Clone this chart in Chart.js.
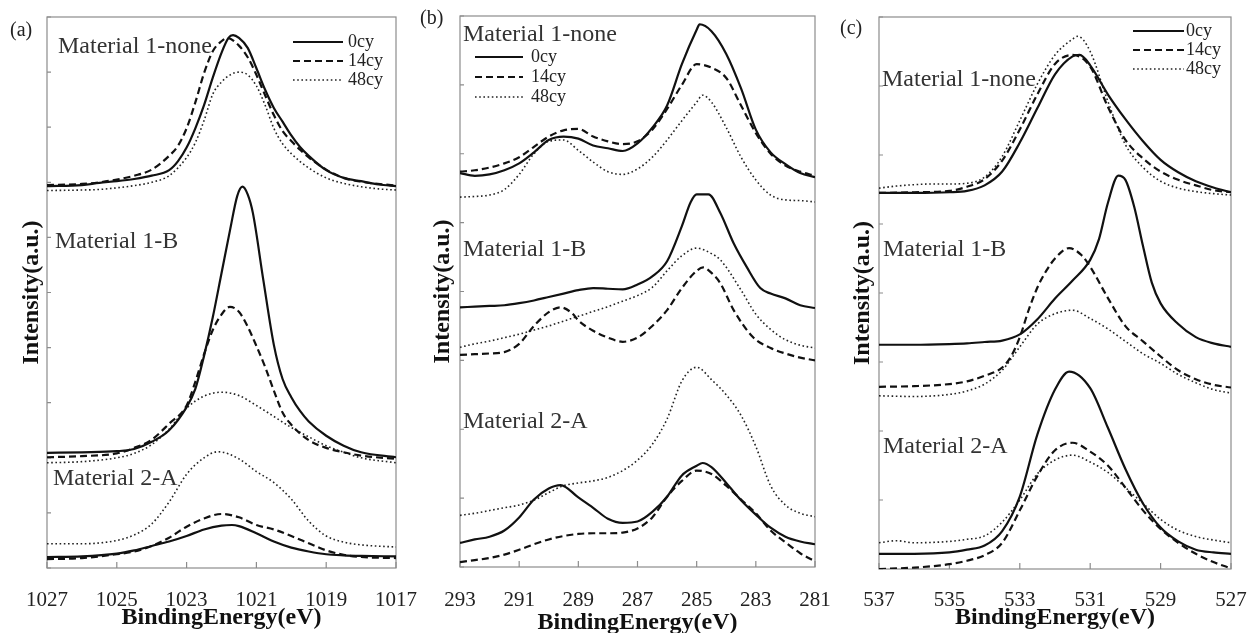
<!DOCTYPE html>
<html>
<head>
<meta charset="utf-8">
<script src="https://cdn.jsdelivr.net/npm/chart.js"></script>
<style>
  html, body { margin: 0; padding: 0; background: #fff; overflow: hidden; width: 1247px; height: 633px; }
  canvas { position: absolute; top: 0; }
  .lbl { position: absolute; font-family: "Liberation Serif", serif; font-size: 24px; line-height: 24px; color: #333; white-space: nowrap; }
  .tag { position: absolute; font-family: "Liberation Serif", serif; font-size: 20px; line-height: 20px; color: #222; }
</style>
</head>
<body>
<canvas id="chartA" width="420" height="633" style="left:0"></canvas>
<canvas id="chartB" width="420" height="633" style="left:420px"></canvas>
<canvas id="chartC" width="430" height="633" style="left:830px"></canvas>

<div class="tag" style="left:10px;top:19px">(a)</div>
<div class="tag" style="left:420px;top:7px">(b)</div>
<div class="tag" style="left:840px;top:17px">(c)</div>

<div class="lbl" style="left:58px;top:33px">Material 1-none</div>
<div class="lbl" style="left:55px;top:228px">Material 1-B</div>
<div class="lbl" style="left:53px;top:465px">Material 2-A</div>

<div class="lbl" style="left:463px;top:21px">Material 1-none</div>
<div class="lbl" style="left:463px;top:236px">Material 1-B</div>
<div class="lbl" style="left:463px;top:408px">Material 2-A</div>

<div class="lbl" style="left:882px;top:66px">Material 1-none</div>
<div class="lbl" style="left:883px;top:236px">Material 1-B</div>
<div class="lbl" style="left:883px;top:433px">Material 2-A</div>

<script>
/* Data: [binding energy (eV), intensity (a.u., offset stacked)] */

const cycles = ['0cy', '14cy', '48cy']

/* --- (a) --- */
const ticksA = [1027, 1025, 1023, 1021, 1019, 1017]

const aNone0 = [[1027,6.93],[1026,6.95],[1025.5,6.99],[1025,7.02],[1024.5,7.06],[1024,7.12],[1023.5,7.22],[1023.25,7.38],[1023,7.63],[1022.75,7.98],[1022.5,8.40],[1022.25,8.90],[1022,9.35],[1021.8,9.62],[1021.67,9.67],[1021.5,9.62],[1021.25,9.44],[1021,9.07],[1020.75,8.68],[1020.5,8.35],[1020.25,8.10],[1020,7.85],[1019.75,7.64],[1019.5,7.48],[1019,7.22],[1018.5,7.08],[1018,7.02],[1017.5,6.96],[1017,6.93]]
const aNone14 = [[1027,6.95],[1026,6.97],[1025.5,7.0],[1025,7.05],[1024.5,7.12],[1024,7.23],[1023.5,7.48],[1023.25,7.66],[1023,7.98],[1022.75,8.45],[1022.5,8.98],[1022.25,9.38],[1022,9.56],[1021.84,9.62],[1021.5,9.48],[1021.25,9.27],[1021,8.95],[1020.75,8.58],[1020.5,8.22],[1020.25,7.93],[1020,7.75],[1019.75,7.59],[1019.5,7.45],[1019,7.23],[1018.5,7.08],[1018,7.01],[1017,6.94]]
const aNone48 = [[1027,6.85],[1026,6.86],[1025.5,6.87],[1025,6.90],[1024.5,6.94],[1024,7.0],[1023.5,7.12],[1023,7.45],[1022.75,7.72],[1022.5,8.12],[1022.25,8.60],[1022,8.82],[1021.75,8.95],[1021.5,9.0],[1021.25,8.95],[1021,8.75],[1020.75,8.40],[1020.5,7.98],[1020.25,7.70],[1020,7.52],[1019.5,7.26],[1019,7.08],[1018.5,6.98],[1018,6.92],[1017.5,6.88],[1017,6.86]]

const aB0 = [[1027,2.09],[1026,2.10],[1025,2.12],[1024.5,2.16],[1024,2.29],[1023.5,2.50],[1023,2.92],[1022.75,3.25],[1022.5,3.85],[1022.25,4.55],[1022,5.35],[1021.75,6.15],[1021.55,6.75],[1021.4,6.92],[1021.25,6.78],[1021.1,6.44],[1020.8,5.22],[1020.5,4.05],[1020.25,3.43],[1020,3.10],[1019.75,2.85],[1019.5,2.66],[1019,2.40],[1018.5,2.22],[1018,2.10],[1017,2.01]]
const aB14 = [[1027,2.01],[1026,2.03],[1025,2.08],[1024.5,2.18],[1024,2.33],[1023.5,2.62],[1023,2.95],[1022.75,3.38],[1022.5,3.88],[1022.25,4.32],[1022,4.60],[1021.76,4.74],[1021.5,4.65],[1021.25,4.38],[1021,4.03],[1020.75,3.65],[1020.5,3.22],[1020.25,2.82],[1020,2.60],[1019.5,2.32],[1019,2.18],[1018.5,2.10],[1018,2.04],[1017,1.98]]
const aB48 = [[1027,1.91],[1026,1.93],[1025,2.0],[1024.5,2.08],[1024,2.24],[1023.5,2.52],[1023,2.90],[1022.5,3.12],[1022,3.19],[1021.5,3.13],[1021,2.95],[1020.5,2.75],[1020,2.55],[1019.5,2.38],[1019,2.22],[1018.5,2.10],[1018,2.0],[1017,1.91]]

const aA0 = [[1027,0.20],[1026,0.21],[1025,0.26],[1024.5,0.32],[1024,0.40],[1023.5,0.48],[1023,0.58],[1022.5,0.70],[1022,0.77],[1021.7,0.78],[1021.5,0.76],[1021,0.63],[1020.5,0.48],[1020,0.37],[1019.5,0.30],[1019,0.25],[1018.5,0.23],[1018,0.22],[1017,0.21]]
const aA14 = [[1027,0.16],[1026,0.18],[1025,0.25],[1024.5,0.30],[1024,0.40],[1023.5,0.55],[1023,0.75],[1022.5,0.90],[1022,0.98],[1021.5,0.92],[1021,0.78],[1020.5,0.70],[1020,0.58],[1019.5,0.45],[1019,0.32],[1018.5,0.24],[1018,0.20],[1017,0.18]]
const aA48 = [[1027,0.44],[1026,0.44],[1025,0.50],[1024.5,0.60],[1024,0.80],[1023.5,1.20],[1023,1.70],[1022.5,2.00],[1022.1,2.11],[1021.5,1.98],[1021,1.75],[1020.5,1.55],[1020,1.25],[1019.5,0.85],[1019,0.58],[1018.5,0.47],[1018,0.42],[1017,0.38]]

/* --- (b) --- */
const ticksB = [293, 291, 289, 287, 285, 283, 281]

const bNone0 = [[293,5.72],[292.5,5.68],[292,5.70],[291.5,5.76],[291,5.86],[290.5,6.02],[290,6.20],[289.5,6.25],[289,6.22],[288.5,6.12],[288,6.08],[287.5,6.04],[287,6.15],[286.5,6.38],[286,6.70],[285.5,7.30],[285,7.80],[284.9,7.88],[284.5,7.78],[284,7.45],[283.5,6.95],[283,6.35],[282.5,6.02],[282,5.85],[281.5,5.72],[281,5.66]]
const bNone14 = [[293,5.74],[292.5,5.76],[292,5.80],[291.5,5.86],[291,5.95],[290.5,6.10],[290,6.25],[289.5,6.34],[289,6.36],[288.5,6.25],[288,6.18],[287.5,6.14],[287,6.18],[286.5,6.35],[286,6.65],[285.5,7.0],[285,7.30],[284.5,7.25],[284,7.10],[283.5,6.70],[283,6.30],[282.5,6.00],[282,5.83],[281.5,5.74],[281,5.68]]
const bNone48 = [[293,5.37],[292.5,5.38],[292,5.40],[291.5,5.48],[291,5.70],[290.5,6.00],[290,6.18],[289.5,6.20],[289,6.05],[288.5,5.88],[288,5.74],[287.5,5.70],[287,5.78],[286.5,5.95],[286,6.20],[285.5,6.48],[285,6.75],[284.8,6.85],[284.5,6.75],[284,6.38],[283.5,5.95],[283,5.62],[282.5,5.40],[282,5.33],[281.5,5.32],[281,5.30]]

const bB0 = [[293,3.77],[292.5,3.78],[292,3.79],[291.5,3.80],[291,3.83],[290.5,3.87],[290,3.92],[289.5,3.97],[289,4.02],[288.5,4.05],[288,4.04],[287.5,4.03],[287,4.10],[286.5,4.22],[286,4.44],[285.5,4.95],[285.2,5.30],[285,5.41],[284.6,5.41],[284.2,5.14],[283.75,4.70],[283.3,4.35],[282.85,4.05],[282.5,3.97],[282,3.90],[281.5,3.80],[281,3.76]]
const bB14 = [[293,3.08],[292.5,3.09],[292,3.10],[291.5,3.12],[291,3.24],[290.5,3.50],[290,3.70],[289.6,3.77],[289.2,3.68],[289,3.58],[288.5,3.43],[288,3.33],[287.5,3.27],[287,3.33],[286.5,3.50],[286,3.73],[285.5,4.05],[285,4.30],[284.78,4.35],[284.5,4.27],[284.2,4.12],[283.75,3.73],[283.1,3.34],[282.5,3.18],[282,3.10],[281.5,3.04],[281,3.00]]
const bB48 = [[293,3.19],[292.5,3.24],[292,3.28],[291.5,3.33],[291,3.38],[290.5,3.44],[290,3.50],[289.5,3.57],[289,3.64],[288.5,3.71],[288,3.78],[287.5,3.86],[287,3.94],[286.5,4.06],[286,4.30],[285.5,4.52],[285,4.63],[284.5,4.55],[284.2,4.46],[283.5,4.02],[283,3.67],[282.5,3.45],[282,3.30],[281.5,3.22],[281,3.18]]

const bA0 = [[293,0.35],[292.5,0.40],[292,0.44],[291.5,0.53],[291,0.72],[290.5,0.98],[290,1.14],[289.6,1.19],[289,1.01],[288.5,0.86],[288,0.70],[287.5,0.64],[287,0.66],[286.5,0.80],[286,1.02],[285.5,1.33],[285,1.47],[284.8,1.51],[284.5,1.45],[284,1.22],[283.5,0.97],[283,0.76],[282.5,0.57],[282,0.44],[281.5,0.37],[281,0.33]]
const bA14 = [[293,0.07],[292.5,0.10],[292,0.13],[291.5,0.18],[291,0.25],[290.5,0.33],[290,0.40],[289.5,0.45],[289,0.48],[288.5,0.49],[288,0.49],[287.5,0.50],[287,0.56],[286.5,0.72],[286,1.02],[285.5,1.25],[285,1.40],[284.5,1.35],[284,1.18],[283.5,0.98],[283,0.78],[282.5,0.53],[282,0.36],[281.5,0.20],[281,0.08]]
const bA48 = [[293,0.75],[292.5,0.78],[292,0.82],[291.5,0.86],[291,0.90],[290.5,0.97],[290,1.08],[289.5,1.18],[289,1.22],[288.5,1.25],[288,1.30],[287.5,1.40],[287,1.55],[286.5,1.78],[286,2.15],[285.5,2.70],[285,2.90],[284.5,2.72],[284,2.50],[283.5,2.20],[283,1.75],[282.5,1.18],[282,0.90],[281.5,0.78],[281,0.73]]

/* --- (c) --- */
const ticksC = [537, 535, 533, 531, 529, 527]

const cNone0 = [[537,5.45],[536,5.45],[535,5.46],[534.5,5.48],[534,5.56],[533.5,5.76],[533,6.18],[532.5,6.68],[532,7.17],[531.5,7.43],[531.3,7.45],[531,7.30],[530.5,6.88],[530,6.52],[529.5,6.20],[529,5.93],[528.5,5.75],[528,5.62],[527.5,5.53],[527,5.46]]
const cNone14 = [[537,5.45],[536,5.46],[535,5.48],[534.5,5.54],[534,5.65],[533.5,5.92],[533,6.37],[532.5,6.88],[532,7.32],[531.5,7.45],[531,7.28],[530.5,6.70],[530,6.22],[529.5,5.95],[529,5.76],[528.5,5.64],[528,5.56],[527.5,5.49],[527,5.46]]
const cNone48 = [[537,5.52],[536.5,5.55],[536,5.57],[535.5,5.58],[535,5.58],[534.5,5.59],[534,5.68],[533.5,5.98],[533,6.50],[532.5,7.03],[532,7.45],[531.5,7.68],[531.35,7.72],[531,7.50],[530.5,6.78],[530,6.15],[529.5,5.82],[529,5.62],[528.5,5.52],[528,5.47],[527.5,5.44],[527,5.42]]

const cB0 = [[537,3.25],[536,3.25],[535,3.26],[534.5,3.27],[534,3.29],[533.5,3.31],[533,3.40],[532.5,3.62],[532,3.92],[531.5,4.18],[531,4.48],[530.75,4.78],[530.5,5.30],[530.2,5.70],[530,5.64],[529.75,5.25],[529.5,4.68],[529.25,4.15],[529,3.85],[528.5,3.55],[528,3.36],[527.5,3.27],[527,3.22]]
const cB14 = [[537,2.64],[536,2.65],[535,2.68],[534.5,2.72],[534,2.80],[533.5,2.92],[533.25,3.08],[533,3.36],[532.75,3.75],[532.5,4.08],[532.25,4.32],[532,4.50],[531.6,4.65],[531.25,4.55],[531,4.38],[530.5,3.93],[530,3.52],[529.5,3.30],[529,3.08],[528.5,2.88],[528,2.75],[527.5,2.67],[527,2.63]]
const cB48 = [[537,2.51],[536,2.50],[535,2.53],[534.5,2.58],[534,2.68],[533.5,2.88],[533,3.22],[532.5,3.55],[532,3.70],[531.5,3.75],[531,3.63],[530.5,3.48],[530,3.30],[529.5,3.12],[529,2.98],[528.5,2.82],[528,2.70],[527.5,2.60],[527,2.55]]

const cA0 = [[537,0.22],[536,0.22],[535,0.24],[534.5,0.28],[534,0.34],[533.5,0.55],[533,1.05],[532.5,1.95],[532,2.60],[531.6,2.86],[531,2.62],[530.5,2.05],[530,1.45],[529.5,0.95],[529,0.60],[528.5,0.40],[528,0.28],[527.5,0.24],[527,0.22]]
const cA14 = [[537,0.0],[536,0.02],[535.5,0.04],[535,0.07],[534.5,0.12],[534,0.20],[533.5,0.38],[533,0.85],[532.5,1.35],[532,1.72],[531.5,1.83],[531,1.70],[530.5,1.50],[530,1.18],[529.5,0.85],[529,0.58],[528.5,0.38],[528,0.22],[527.5,0.10],[527,0.01]]
const cA48 = [[537,0.38],[536.5,0.41],[536,0.38],[535,0.40],[534.5,0.43],[534,0.48],[533.5,0.68],[533,1.00],[532.5,1.38],[532,1.58],[531.5,1.65],[531,1.55],[530.5,1.40],[530,1.18],[529.5,0.95],[529,0.72],[528.5,0.56],[528,0.47],[527.5,0.42],[527,0.38]]

/* Line styles: 0cy solid, 14cy dashed, 48cy dotted */

const lineStyles = [
  { borderColor: '#111', borderWidth: 2.2, borderDash: [] },
  { borderColor: '#111', borderWidth: 2.2, borderDash: [7, 4] },
  { borderColor: '#222', borderWidth: 1.6, borderDash: [1.6, 2.6] }
]

const serif = '"Liberation Serif", "Times New Roman", serif'

/* Frame, inward ticks and the little legend */

const framePlugin = {
  id: 'frame',
  beforeDatasetsDraw(chart) {
    const { ctx, chartArea: a, scales: { x, y } } = chart
    ctx.save()
    ctx.strokeStyle = '#8c8c8c'
    ctx.lineWidth = 1.2
    ctx.strokeRect(a.left, a.top, a.right - a.left, a.bottom - a.top)
    ctx.beginPath()
    y.ticks.forEach(t => {
      const py = y.getPixelForValue(t.value)
      ctx.moveTo(a.left, py)
      ctx.lineTo(a.left + 4, py)
    })
    x.ticks.forEach(t => {
      const px = x.getPixelForValue(t.value)
      ctx.moveTo(px, a.bottom)
      ctx.lineTo(px, a.bottom - 6)
    })
    ctx.stroke()
    ctx.restore()
  },
  afterDraw(chart, args, opts) {
    const lg = opts.legend
    if (!lg) return
    const ctx = chart.ctx
    ctx.save()
    ctx.font = '18px ' + serif
    ctx.textBaseline = 'middle'
    ctx.fillStyle = '#222'
    cycles.forEach((name, i) => {
      const st = lineStyles[i]
      ctx.strokeStyle = st.borderColor
      ctx.lineWidth = st.borderWidth
      ctx.setLineDash(st.borderDash)
      ctx.beginPath()
      ctx.moveTo(lg.x1, lg.rows[i])
      ctx.lineTo(lg.x2, lg.rows[i])
      ctx.stroke()
      ctx.fillText(name, lg.tx, lg.rows[i])
    })
    ctx.restore()
  }
}

function toPoints(pairs) {
  return pairs.map(p => ({ x: p[0], y: p[1] }))
}

function makePanel(id, p) {
  const datasets = []
  p.groups.forEach(group => {
    group.forEach((pairs, i) => {
      datasets.push(Object.assign({
        data: toPoints(pairs),
        pointRadius: 0,
        fill: false,
        cubicInterpolationMode: 'monotone'
      }, lineStyles[i]))
    })
  })

  return new Chart(document.getElementById(id), {
    type: 'line',
    data: { datasets },
    options: {
      responsive: false,
      animation: false,
      devicePixelRatio: 1,
      events: [],
      layout: { padding: p.pad },
      plugins: {
        legend: { display: false },
        tooltip: { enabled: false },
        frame: { legend: p.legend }
      },
      scales: {
        x: {
          type: 'linear',
          reverse: true,
          min: p.ticks[p.ticks.length - 1],
          max: p.ticks[0],
          afterBuildTicks: s => { s.ticks = p.ticks.map(v => ({ value: v })) },
          afterFit: s => { s.height = p.xh; s.paddingLeft = 0; s.paddingRight = 0 },
          grid: { display: false },
          border: { display: false },
          ticks: {
            autoSkip: false,
            maxRotation: 0,
            padding: p.tickPad,
            color: '#222',
            font: { family: serif, size: 21 },
            callback: v => String(v)
          },
          title: {
            display: true,
            text: 'BindingEnergy(eV)',
            color: '#111',
            font: { family: serif, size: 24, weight: 'bold', lineHeight: 1 },
            padding: { top: 0, bottom: p.xTitlePad }
          }
        },
        y: {
          min: 0,
          max: p.ymax,
          afterFit: s => { s.width = p.yw; s.paddingTop = 0; s.paddingBottom = 0 },
          grid: { display: false },
          border: { display: false },
          ticks: { display: false, stepSize: 1 },
          title: {
            display: true,
            text: 'Intensity(a.u.)',
            color: '#111',
            font: { family: serif, size: 24, weight: 'bold', lineHeight: 1 },
            padding: { top: p.yTitlePad, bottom: 0 }
          }
        }
      }
    },
    plugins: [framePlugin]
  })
}

/* Panel (a) */
makePanel('chartA', {
  ticks: ticksA, ymax: 10,
  groups: [[aNone0, aNone14, aNone48], [aB0, aB14, aB48], [aA0, aA14, aA48]],
  pad: { left: 0, top: 17, right: 24, bottom: 0 },
  yw: 47, xh: 65, tickPad: 12, xTitlePad: 3, yTitlePad: 20,
  legend: { x1: 293, x2: 343, tx: 348, rows: [42, 61, 80] }
})

/* Panel (b) */
makePanel('chartB', {
  ticks: ticksB, ymax: 8,
  groups: [[bNone0, bNone14, bNone48], [bB0, bB14, bB48], [bA0, bA14, bA48]],
  pad: { left: 0, top: 16, right: 25, bottom: 0 },
  yw: 40, xh: 66, tickPad: 13, xTitlePad: -2, yTitlePad: 11,
  legend: { x1: 55, x2: 103, tx: 111, rows: [57, 77, 97] }
})

/* Panel (c) */
makePanel('chartC', {
  ticks: ticksC, ymax: 8,
  groups: [[cNone0, cNone14, cNone48], [cB0, cB14, cB48], [cA0, cA14, cA48]],
  pad: { left: 0, top: 17, right: 29, bottom: 0 },
  yw: 49, xh: 64, tickPad: 11, xTitlePad: 3, yTitlePad: 21,
  legend: { x1: 303, x2: 354, tx: 356, rows: [31, 50, 69] }
})
</script>
</body>
</html>
